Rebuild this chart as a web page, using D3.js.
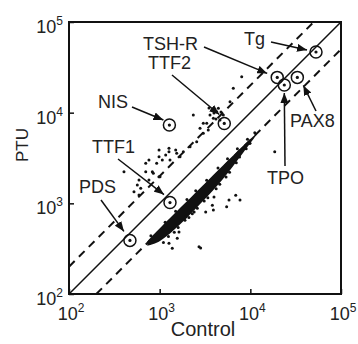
<!DOCTYPE html>
<html>
<head>
<meta charset="utf-8">
<script src="https://cdn.jsdelivr.net/npm/d3@7"></script>
<style>
  body { margin: 0; background: #fff; }
  text { font-family: "Liberation Sans", Arial, sans-serif; fill: #222; }
</style>
</head>
<body>
<div id="chart"></div>
<script>
// highlighted genes (circled)
const genes = ['PDS', 'TTF1', 'NIS', 'TTF2', 'TSH-R', 'TPO', 'PAX8', 'Tg'];
const geneControl = [470, 1300, 1280, 5160, 19800, 23700, 33000, 53000];
const genePTU = [390, 1020, 7300, 7600, 24500, 20200, 24500, 46700];

// reference lines PTU = ratio * Control
const refRatios = [1, 2, 0.5];

// dense core of the cloud (below the diagonal)
const bandControl = [730, 850, 1000, 1300, 1700, 2200, 2900, 3800, 5000, 6500, 8500, 10500, 12000];
const bandUpper = [380, 450, 530, 690, 900, 1160, 1520, 2000, 2620, 3400, 4400, 5400, 5900];
const bandLower = [341, 354, 380, 461, 589, 763, 1029, 1348, 1857, 2588, 3710, 4911, 5876];

// individual spots
const pointControl = [
  702, 762, 984, 1165, 1267, 1503, 702, 830, 984, 762, 592, 567, 618, 521, 592, 404,
  927, 851, 1009, 1300, 1541, 1824, 1676, 2163, 2561, 3029, 3437, 2786, 3304, 3592, 4256, 3910,
  8035, 6490, 5970, 4440, 5035, 4625, 3029, 3972, 3499, 4745, 4178, 2350, 984, 1267, 1069,
  5821, 6900, 2831, 1633, 3219, 3972, 1267, 1377, 2716, 18580, 7690, 3910, 5480, 9910, 1563, 3811, 2291, 1936,
  1100, 1250, 1450, 1600, 1900, 2100, 2400, 2600, 3100, 3400, 4200, 4600, 5400, 5900, 7000, 7600, 9000, 9800,
  800, 1150, 1500, 2000, 2500, 3300, 4400, 5600, 7200, 9300, 11200
];
const pointPTU = [
  2760, 3006, 3267, 3410, 3710, 3870, 2234, 2234, 1967, 1808, 1808, 1592, 1465, 1344, 1236, 2234,
  2760, 2143, 1967, 3006, 3565, 3710, 3267, 4215, 4789, 5918, 6438, 6724, 7636, 9418, 10250, 8670,
  24950, 18580, 13210, 11170, 9418, 8300, 7636, 9908, 11250, 10160, 8510, 9420, 3870, 4040, 3006,
  1089, 1227, 321, 483, 802, 1175, 362, 319, 333, 3710, 1089, 844, 918, 4590, 411, 951, 769, 706,
  370, 430, 480, 540, 650, 700, 800, 880, 1060, 1150, 1450, 1620, 1950, 2200, 2800, 3250, 4000, 4600,
  440, 620, 820, 1100, 1380, 1800, 2450, 3100, 4000, 5100, 6000
];

const tickVals = [1e2, 1e3, 1e4, 1e5];

// label placement (pixels): text start, text baseline, arrow start, arrow tip offset from circle
const labelPos = {
  'NIS':   { tx: 98,  ty: 108, ax: 132, ay: 107, dx: -6,  dy: -5 },
  'TSH-R': { tx: 143, ty: 50,  ax: 204, ay: 47,  dx: -10, dy: -4 },
  'TTF2':  { tx: 148, ty: 69,  ax: 172, ay: 75,  dx: -5,  dy: -9 },
  'Tg':    { tx: 244, ty: 45,  ax: 271, ay: 42,  dx: -9,  dy: -2 },
  'PAX8':  { tx: 290, ty: 127, ax: 316, ay: 111, dx: 6,   dy: 8 },
  'TPO':   { tx: 267, ty: 184, ax: 285, ay: 166, dx: 0,   dy: 8 },
  'TTF1':  { tx: 92,  ty: 153, ax: 118, ay: 159, dx: -6,  dy: -8 },
  'PDS':   { tx: 79,  ty: 193, ax: 101, ay: 200, dx: -6,  dy: -9 }
};

const width = 358, height = 344;
const margin = { top: 22, left: 69 };
const W = 272, H = 272;

const svg = d3.select('#chart').append('svg')
  .attr('width', width)
  .attr('height', height);

const defs = svg.append('defs');
defs.append('clipPath').attr('id', 'plotclip')
  .append('rect').attr('width', W).attr('height', H);
defs.append('marker')
  .attr('id', 'arrow')
  .attr('viewBox', '0 0 10 8')
  .attr('refX', 10).attr('refY', 4)
  .attr('markerWidth', 10).attr('markerHeight', 8)
  .attr('markerUnits', 'userSpaceOnUse')
  .attr('orient', 'auto')
  .append('path').attr('d', 'M0,0L10,4L0,8Z').attr('fill', '#111');

const xScale = d3.scaleLog().domain([1e2, 1e5]).range([0, W]);
const yScale = d3.scaleLog().domain([1e2, 1e5]).range([H, 0]);

const chart = svg.append('g')
  .attr('transform', `translate(${margin.left}, ${margin.top})`);

const plot = chart.append('g').attr('clip-path', 'url(#plotclip)');

// reference lines
refRatios.forEach(r => {
  const x0 = Math.max(1e2, 1e2 / r), x1 = Math.min(1e5, 1e5 / r);
  plot.append('line')
    .attr('x1', xScale(x0)).attr('y1', yScale(x0 * r))
    .attr('x2', xScale(x1)).attr('y2', yScale(x1 * r))
    .attr('stroke', '#111')
    .attr('stroke-width', r === 1 ? 1.5 : 2)
    .attr('stroke-dasharray', r === 1 ? null : '8,6');
});

// dense core
const band = bandControl.map((c, i) => ({ c, hi: bandUpper[i], lo: bandLower[i] }));
plot.append('path')
  .datum(band)
  .attr('fill', '#111')
  .attr('d', d3.area()
    .x(d => xScale(d.c))
    .y0(d => yScale(d.lo))
    .y1(d => yScale(d.hi))
    .curve(d3.curveBasis));

const points = pointControl.map((c, i) => ({ c, p: pointPTU[i] }));
plot.selectAll('circle.pt')
  .data(points)
  .enter().append('circle')
  .attr('class', 'pt')
  .attr('cx', d => xScale(d.c))
  .attr('cy', d => yScale(d.p))
  .attr('r', 1.5)
  .attr('fill', '#111');

// circled genes
const geneData = genes.map((name, i) => ({ name, c: geneControl[i], p: genePTU[i] }));
const gs = chart.selectAll('g.gene')
  .data(geneData)
  .enter().append('g')
  .attr('class', 'gene')
  .attr('transform', d => `translate(${xScale(d.c)}, ${yScale(d.p)})`);
gs.append('circle').attr('r', 6).attr('fill', 'none').attr('stroke', '#111').attr('stroke-width', 1.5);
gs.append('circle').attr('r', 1.6).attr('fill', '#111');

// labels + arrows (absolute pixel coords)
const ann = svg.append('g');
geneData.forEach(d => {
  const lp = labelPos[d.name];
  const cx = margin.left + xScale(d.c), cy = margin.top + yScale(d.p);
  ann.append('line')
    .attr('x1', lp.ax).attr('y1', lp.ay)
    .attr('x2', cx + lp.dx).attr('y2', cy + lp.dy)
    .attr('stroke', '#111')
    .attr('stroke-width', 1.5)
    .attr('marker-end', 'url(#arrow)');
  ann.append('text')
    .attr('x', lp.tx).attr('y', lp.ty)
    .attr('font-size', 18)
    .text(d.name);
});

// axes (ticks inside, labels drawn below)
chart.append('g')
  .attr('transform', `translate(0, ${H})`)
  .call(d3.axisBottom(xScale).tickValues(tickVals).tickSizeInner(-5).tickSizeOuter(0).tickFormat(''))
  .call(a => a.select('.domain').remove())
  .call(a => a.selectAll('line').attr('stroke', '#111').attr('stroke-width', 1.5));
chart.append('g')
  .call(d3.axisLeft(yScale).tickValues(tickVals).tickSizeInner(-5).tickSizeOuter(0).tickFormat(''))
  .call(a => a.select('.domain').remove())
  .call(a => a.selectAll('line').attr('stroke', '#111').attr('stroke-width', 1.5));

chart.append('rect')
  .attr('width', W).attr('height', H)
  .attr('fill', 'none')
  .attr('stroke', '#111')
  .attr('stroke-width', 2);

const xt = chart.selectAll('text.xt')
  .data(tickVals)
  .enter().append('text')
  .attr('class', 'xt')
  .attr('x', d => xScale(d) + 2)
  .attr('y', H + 26)
  .attr('text-anchor', 'middle')
  .attr('font-size', 18);
xt.append('tspan').text('10');
xt.append('tspan').attr('dy', -8).attr('font-size', 12).text(d => Math.round(Math.log10(d)));

const yt = chart.selectAll('text.yt')
  .data(tickVals)
  .enter().append('text')
  .attr('class', 'yt')
  .attr('x', -6)
  .attr('y', d => yScale(d) + 11)
  .attr('text-anchor', 'end')
  .attr('font-size', 18);
yt.append('tspan').text('10');
yt.append('tspan').attr('dy', -8).attr('font-size', 12).text(d => Math.round(Math.log10(d)));

chart.append('text')
  .attr('x', W / 2 - 2)
  .attr('y', H + 42)
  .attr('text-anchor', 'middle')
  .attr('font-size', 20)
  .text('Control');

chart.append('text')
  .attr('transform', `translate(-41, ${H / 2 - 13}) rotate(-90)`)
  .attr('text-anchor', 'middle')
  .attr('font-size', 17)
  .text('PTU');
</script>
</body>
</html>
